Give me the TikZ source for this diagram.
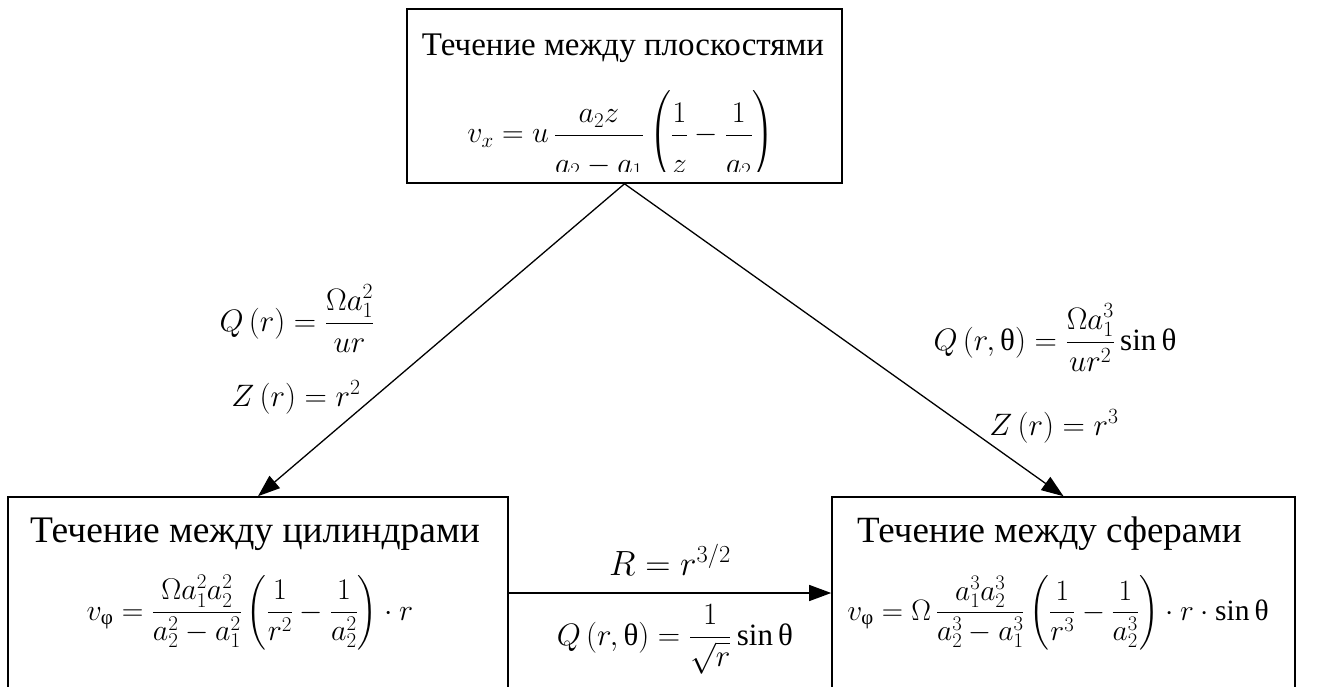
\RequirePackage{fix-cm}
\documentclass[tikz,border=0pt]{standalone}
\usepackage{amsmath}
\usepackage{fontspec}
\setmainfont{Liberation Serif}
\usetikzlibrary{arrows.meta}
\newcommand{\gth}{\text{θ}}
\newcommand{\gph}{\text{φ}}
\newcommand{\dnstrut}{\rule{0pt}{1.15em}}
\begin{document}
\begin{tikzpicture}[x=1pt,y=-1pt,
  box/.style={draw,line width=1.6pt,inner sep=0pt},
  ttl/.style={anchor=base,inner sep=0pt},
  eq/.style={font=\fontsize{31}{36}\selectfont,inner sep=0pt,anchor=base},
  arr/.style={line width=1.3pt,-{Triangle[length=22pt,width=16pt]}}]
\clip (0,0) rectangle (1322,687);
\fill[white] (0,0) rectangle (1322,687);
% boxes
\node[box,minimum width=435pt,minimum height=174pt] (top) at (624.5,96) {};
\node[box,minimum width=500pt,minimum height=243pt] (left) at (258,618.5) {};
\node[box,minimum width=463pt,minimum height=243pt] (right) at (1063.5,618.5) {};
% titles
\node[ttl,font=\fontsize{33}{38}\selectfont] (ttop) at (623,56) {Течение между плоскостями};
\node[ttl,font=\fontsize{37.5}{42}\selectfont] (tleft) at (255,542) {Течение между цилиндрами};
\node[ttl,anchor=base west,font=\fontsize{37}{42}\selectfont] (tright) at (857,542) {Течение между сферами};
% formulas
\begin{scope}
\clip (407,9) rectangle (842,172);
\node[eq,font=\fontsize{30}{36}\selectfont] (ftop) at (621,143) {$\displaystyle v_x = u\,\frac{a_2 z}{\dnstrut a_2 - a_1}\left(\frac{1}{\dnstrut z}-\frac{1}{\dnstrut a_2}\right)$};
\end{scope}
\node[eq,font=\fontsize{30}{36}\selectfont] (fleft) at (250,620) {$\displaystyle v_{\gph} = \frac{\Omega a_1^2 a_2^2}{a_2^2 - a_1^2}\left(\frac{1}{r^2}-\frac{1}{a_2^2}\right)\cdot r$};
\node[eq,font=\fontsize{29.5}{36}\selectfont] (fright) at (1058,620) {$\displaystyle v_{\gph} = \Omega\,\frac{a_1^3 a_2^3}{a_2^3 - a_1^3}\left(\frac{1}{r^3}-\frac{1}{a_2^3}\right)\cdot r\cdot\sin\gth$};
% connectors
\coordinate (hy) at (670,593);
\draw[arr] (top.south) -- (left.north);
\draw[arr] (top.south) -- (right.north);
\draw[arr] (left.east |- hy) -- (right.west |- hy);
% labels
\node[eq] (lq) at (297,331) {$\displaystyle Q\left(r\right) = \frac{\Omega a_1^2}{ur}$};
\node[eq] (lz) at (296,406) {$Z\left(r\right) = r^2$};
\node[eq] (rq) at (1055,350) {$\displaystyle Q\left(r,\gth\right) = \frac{\Omega a_1^3}{ur^2}\sin\gth$};
\node[eq] (rz) at (1054,435) {$Z\left(r\right) = r^3$};
\node[eq,font=\fontsize{35}{40}\selectfont] (hr) at (670,575) {$R = r^{3/2}$};
\node[eq] (hq) at (675,645) {$\displaystyle Q\left(r,\gth\right) = \frac{1}{\sqrt{r}}\sin\gth$};
\end{tikzpicture}
\end{document}
